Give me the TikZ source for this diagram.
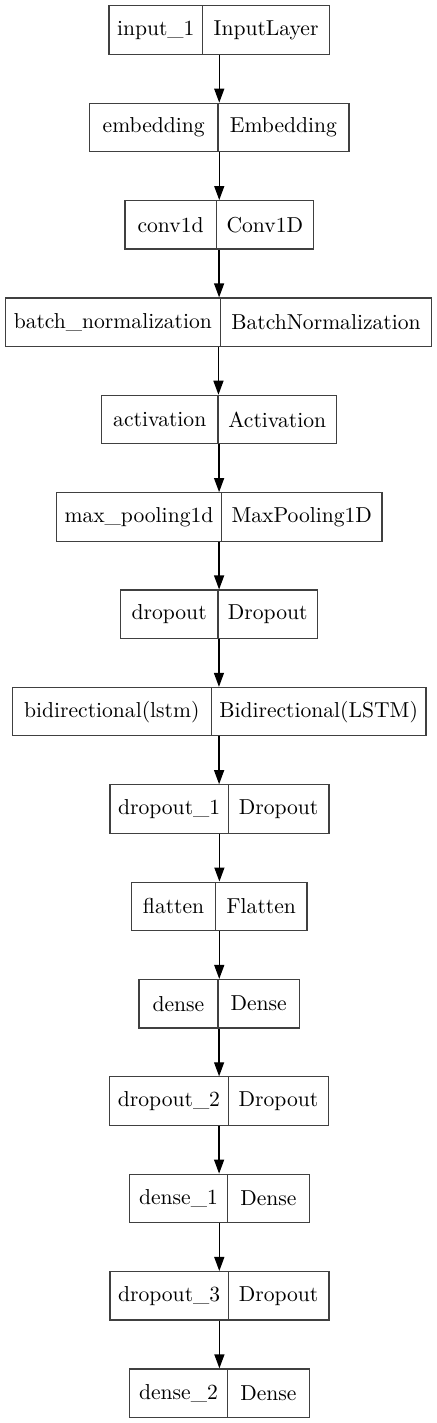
\documentclass[tikz,border=0pt]{standalone}
\usetikzlibrary{arrows.meta,calc}
\begin{document}
\begin{tikzpicture}[x=0.5pt,y=-0.5pt,
  cell/.style={draw=black!75,line width=0.6pt,inner sep=0pt,anchor=north west,
    minimum height=24.2pt,font=\fontsize{10.8}{12}\selectfont},
  arr/.style={draw=black,line width=0.65pt,-{Triangle[length=7pt,width=5pt]}}]
\useasboundingbox (0,0) rectangle (437,1423);
\newcommand\layer[7]{%
  \pgfmathsetmacro\ty{5.3+97.36*#5}%
  \pgfmathsetmacro\wl{(#3-#2)*0.5}%
  \pgfmathsetmacro\wr{(#4-#3)*0.5}%
  \node[cell,minimum width=\wl pt] (#1-l) at (#2,\ty) {#6};
  \node[cell,minimum width=\wr pt] (#1-r) at (#3,\ty) {#7};
  \coordinate (#1-b) at ($(#1-l.south west)!0.5!(#1-r.south east)$);
}
\newcommand\conn[2]{%
  \draw[arr] (#1-b) -- (#1-b |- #2-l.north);
}
\layer{n1}{108.3}{202}{329}{0}{input\_1}{InputLayer}
\layer{n2}{89}{217.3}{348.3}{1}{embedding}{Embedding}
\layer{n3}{124.3}{215.7}{312.7}{2}{conv1d}{Conv1D}
\layer{n4}{4.7}{219.7}{431}{3}{batch\_normalization}{BatchNormalization}
\layer{n5}{101}{217.3}{336}{4}{activation}{Activation}
\layer{n6}{55.7}{221}{381.3}{5}{max\_pooling1d}{MaxPooling1D}
\layer{n7}{119.7}{217.3}{317}{6}{dropout}{Dropout}
\layer{n8}{11.7}{210.7}{425.3}{7}{bidirectional(lstm)}{Bidirectional(LSTM)}
\layer{n9}{109.3}{227.7}{328.3}{8}{dropout\_1}{Dropout}
\layer{n10}{131}{215}{306.3}{9}{flatten}{Flatten}
\layer{n11}{138.3}{217.3}{298.7}{10}{dense}{Dense}
\layer{n12}{109}{227.7}{328}{11}{dropout\_2}{Dropout}
\layer{n13}{128.7}{227}{308.7}{12}{dense\_1}{Dense}
\layer{n14}{109.3}{227.7}{328.3}{13}{dropout\_3}{Dropout}
\layer{n15}{128.7}{227}{308.7}{14}{dense\_2}{Dense}
\conn{n1}{n2}
\conn{n2}{n3}
\conn{n3}{n4}
\conn{n4}{n5}
\conn{n5}{n6}
\conn{n6}{n7}
\conn{n7}{n8}
\conn{n8}{n9}
\conn{n9}{n10}
\conn{n10}{n11}
\conn{n11}{n12}
\conn{n12}{n13}
\conn{n13}{n14}
\conn{n14}{n15}
\end{tikzpicture}
\end{document}
